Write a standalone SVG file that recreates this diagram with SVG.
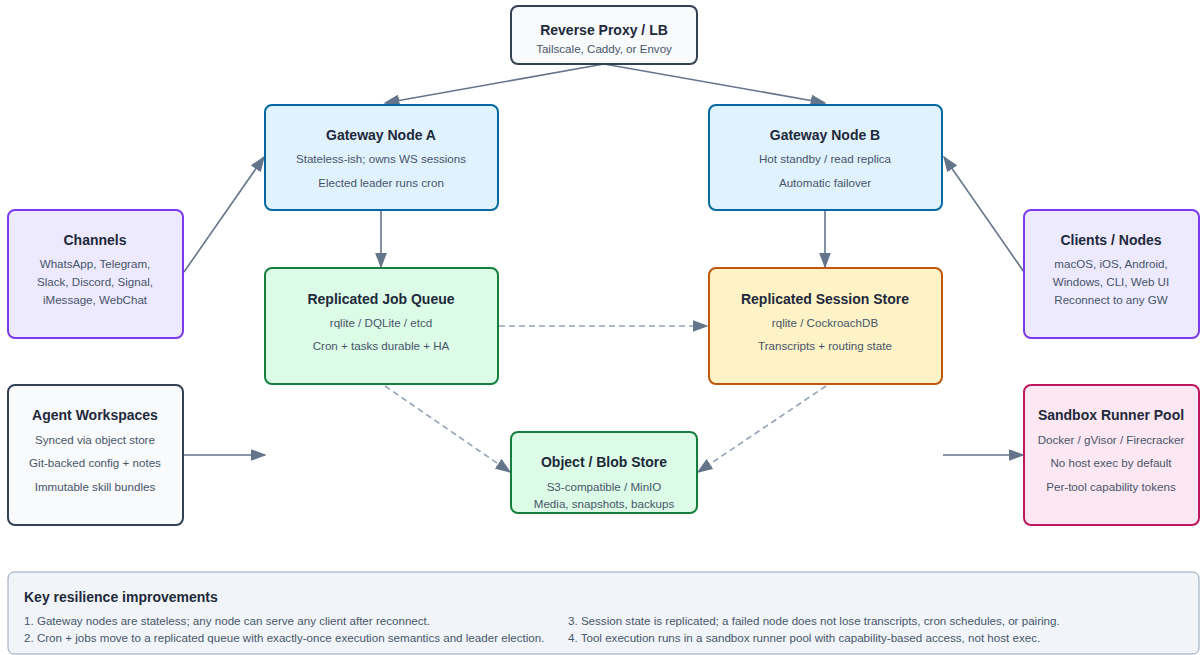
<svg xmlns="http://www.w3.org/2000/svg" width="1200" height="655" viewBox="0 0 1200 655">
  <defs>
    <marker id="arrow-big" viewBox="0 0 10 10" refX="9" refY="5" markerWidth="16" markerHeight="12" markerUnits="userSpaceOnUse" orient="auto" preserveAspectRatio="none">
      <path d="M0,0 L10,5 L0,10 z" fill="#64748b"/>
    </marker>
    <style>
      text { font-family: "Liberation Sans", Arial, sans-serif; text-anchor: middle; }
      .title { font-size: 14px; font-weight: bold; fill: #1e293b; }
      .sub { font-size: 11.6px; fill: #475569; }
      .box { stroke-width: 2; }
      .neutral { fill: #f8fafc; stroke: #334155; }
      .gw { fill: #e0f2fe; stroke: #0369a1; }
      .queue { fill: #dcfce7; stroke: #15803d; }
      .session { fill: #fef3c7; stroke: #c2560c; }
      .edge { fill: #ede9fe; stroke: #7c3aed; }
      .sandbox { fill: #fce7f3; stroke: #be185d; }
      .link { fill: none; stroke: #64748b; stroke-width: 1.6; }
      .dash { fill: none; stroke: #94a3b8; stroke-width: 1.6; stroke-dasharray: 6 4; }
      .note-title { font-size: 14px; font-weight: bold; fill: #1e293b; text-anchor: start; }
      .note { font-size: 11.6px; fill: #475569; text-anchor: start; }
    </style>
  </defs>

  <rect width="1200" height="655" fill="#ffffff"/>

  <!-- connectors -->
  <g id="connectors">
    <line class="link" x1="604" y1="64" x2="385" y2="103" marker-end="url(#arrow-big)"/>
    <line class="link" x1="604" y1="64" x2="825" y2="103" marker-end="url(#arrow-big)"/>
    <line class="link" x1="184" y1="272" x2="264" y2="157" marker-end="url(#arrow-big)"/>
    <line class="link" x1="1024" y1="272" x2="944" y2="157" marker-end="url(#arrow-big)"/>
    <line class="link" x1="381" y1="210" x2="381" y2="267" marker-end="url(#arrow-big)"/>
    <line class="link" x1="825" y1="210" x2="825" y2="267" marker-end="url(#arrow-big)"/>
    <line class="dash" x1="499" y1="326" x2="707" y2="326" marker-end="url(#arrow-big)"/>
    <line class="dash" x1="385" y1="386" x2="510" y2="472" marker-end="url(#arrow-big)"/>
    <line class="dash" x1="826" y1="386" x2="698" y2="472" marker-end="url(#arrow-big)"/>
    <line class="link" x1="184" y1="455" x2="265" y2="455" marker-end="url(#arrow-big)"/>
    <line class="link" x1="943" y1="455" x2="1023" y2="455" marker-end="url(#arrow-big)"/>
  </g>

  <!-- nodes -->
  <g id="reverse-proxy">
    <rect class="box neutral" x="511" y="6" width="186" height="58" rx="7"/>
    <text class="title" x="604" y="35">Reverse Proxy / LB</text>
    <text class="sub" x="604" y="53">Tailscale, Caddy, or Envoy</text>
  </g>

  <g id="gateway-a">
    <rect class="box gw" x="265" y="105" width="233" height="105" rx="7"/>
    <text class="title" x="381" y="140">Gateway Node A</text>
    <text class="sub" x="381" y="163">Stateless-ish; owns WS sessions</text>
    <text class="sub" x="381" y="187">Elected leader runs cron</text>
  </g>

  <g id="gateway-b">
    <rect class="box gw" x="709" y="105" width="233" height="105" rx="7"/>
    <text class="title" x="825" y="140">Gateway Node B</text>
    <text class="sub" x="825" y="163">Hot standby / read replica</text>
    <text class="sub" x="825" y="187">Automatic failover</text>
  </g>

  <g id="channels">
    <rect class="box edge" x="8" y="210" width="175" height="128" rx="7"/>
    <text class="title" x="95" y="245">Channels</text>
    <text class="sub" x="95" y="268">WhatsApp, Telegram,</text>
    <text class="sub" x="95" y="286">Slack, Discord, Signal,</text>
    <text class="sub" x="95" y="304">iMessage, WebChat</text>
  </g>

  <g id="clients">
    <rect class="box edge" x="1024" y="210" width="175" height="128" rx="7"/>
    <text class="title" x="1111" y="245">Clients / Nodes</text>
    <text class="sub" x="1111" y="268">macOS, iOS, Android,</text>
    <text class="sub" x="1111" y="286">Windows, CLI, Web UI</text>
    <text class="sub" x="1111" y="304">Reconnect to any GW</text>
  </g>

  <g id="job-queue">
    <rect class="box queue" x="265" y="268" width="233" height="116" rx="7"/>
    <text class="title" x="381" y="304">Replicated Job Queue</text>
    <text class="sub" x="381" y="327">rqlite / DQLite / etcd</text>
    <text class="sub" x="381" y="350">Cron + tasks durable + HA</text>
  </g>

  <g id="session-store">
    <rect class="box session" x="709" y="268" width="233" height="116" rx="7"/>
    <text class="title" x="825" y="304">Replicated Session Store</text>
    <text class="sub" x="825" y="327">rqlite / CockroachDB</text>
    <text class="sub" x="825" y="350">Transcripts + routing state</text>
  </g>

  <g id="agent-workspaces">
    <rect class="box neutral" x="8" y="385" width="175" height="140" rx="7"/>
    <text class="title" x="95" y="420">Agent Workspaces</text>
    <text class="sub" x="95" y="444">Synced via object store</text>
    <text class="sub" x="95" y="467">Git-backed config + notes</text>
    <text class="sub" x="95" y="491">Immutable skill bundles</text>
  </g>

  <g id="object-store">
    <rect class="box queue" x="511" y="432" width="186" height="81" rx="7"/>
    <text class="title" x="604" y="467">Object / Blob Store</text>
    <text class="sub" x="604" y="491">S3-compatible / MinIO</text>
    <text class="sub" x="604" y="508">Media, snapshots, backups</text>
  </g>

  <g id="sandbox-pool">
    <rect class="box sandbox" x="1024" y="385" width="175" height="140" rx="7"/>
    <text class="title" x="1111" y="420">Sandbox Runner Pool</text>
    <text class="sub" x="1111" y="444">Docker / gVisor / Firecracker</text>
    <text class="sub" x="1111" y="467">No host exec by default</text>
    <text class="sub" x="1111" y="491">Per-tool capability tokens</text>
  </g>

  <!-- footnote panel -->
  <g id="notes">
    <rect x="8" y="572" width="1191" height="82" rx="6" fill="#f1f5f9" stroke="#94a3b8" stroke-width="1"/>
    <text class="note-title" x="24" y="602">Key resilience improvements</text>
    <text class="note" x="24" y="625">1. Gateway nodes are stateless; any node can serve any client after reconnect.</text>
    <text class="note" x="24" y="642">2. Cron + jobs move to a replicated queue with exactly-once execution semantics and leader election.</text>
    <text class="note" x="568" y="625">3. Session state is replicated; a failed node does not lose transcripts, cron schedules, or pairing.</text>
    <text class="note" x="568" y="642">4. Tool execution runs in a sandbox runner pool with capability-based access, not host exec.</text>
  </g>
</svg>
